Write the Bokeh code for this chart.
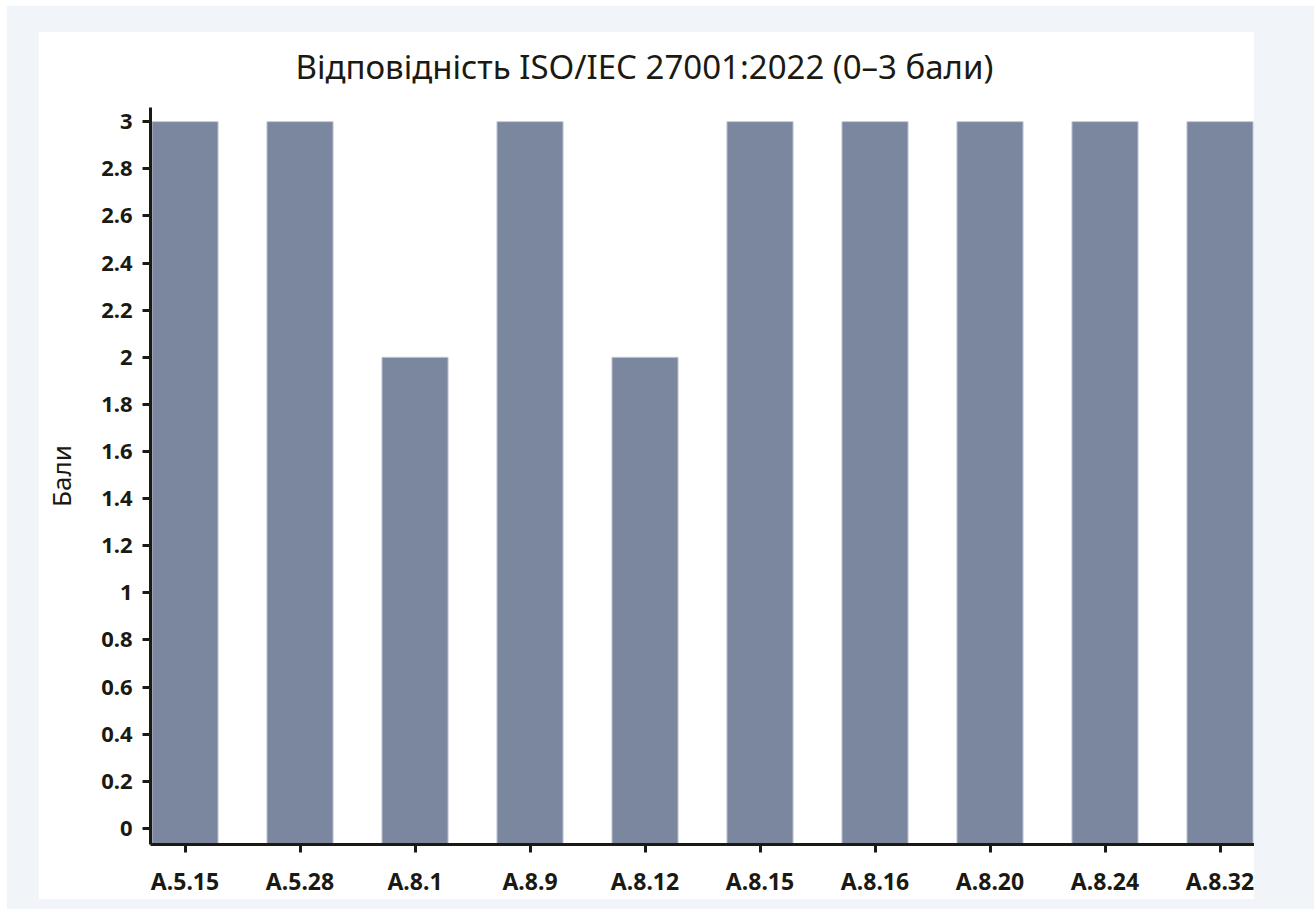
from bokeh.plotting import figure
from bokeh.models import FactorRange, Range1d, FixedTicker, ColumnDataSource, Title
from bokeh.layouts import column
from bokeh.embed import file_html
from bokeh.resources import INLINE

controls = ["A.5.15", "A.5.28", "A.8.1", "A.8.9", "A.8.12",
            "A.8.15", "A.8.16", "A.8.20", "A.8.24", "A.8.32"]
scores = [3, 3, 2, 3, 2, 3, 3, 3, 3, 3]
y_ticks = [0, 0.2, 0.4, 0.6, 0.8, 1, 1.2, 1.4, 1.6, 1.8, 2, 2.2, 2.4, 2.6, 2.8, 3]
y_tick_labels = ["0", "0.2", "0.4", "0.6", "0.8", "1", "1.2", "1.4", "1.6",
                 "1.8", "2", "2.2", "2.4", "2.6", "2.8", "3"]
title_text = "Відповідність ISO/IEC 27001:2022 (0–3 бали)"
y_label = "Бали"

TEXT = "#1a1a12"
FONT = "Noto Sans"

y_range = Range1d(-0.068, 3.06)
x_range = FactorRange(*controls, range_padding=-0.2, range_padding_units="absolute")

p = figure(width=1216, height=868, x_range=x_range, y_range=y_range,
           output_backend="svg", toolbar_location=None,
           min_border_left=112, min_border_right=0, min_border_top=76,
           min_border_bottom=55)

src = ColumnDataSource(dict(x=controls, top=scores,
                            bottom=[y_range.start] * len(scores)))
p.vbar(x="x", top="top", bottom="bottom", width=0.575, source=src,
       fill_color="#7a879e", line_color="#c3c9d8", line_width=1)

# small empty spacer between the title and the plot frame
p.add_layout(Title(text=" ", text_font_size="1px", standoff=3), "above")

p.title.text = title_text
p.title.align = "left"
p.title.vertical_align = "top"
p.title.offset = 145
p.title.text_font = FONT
p.title.text_font_size = "33px"
p.title.text_font_style = "normal"
p.title.text_color = TEXT
p.title.standoff = 22

p.xgrid.visible = False
p.ygrid.visible = False
p.outline_line_color = None
p.background_fill_color = "white"
p.border_fill_color = "white"

for ax in (p.xaxis[0], p.yaxis[0]):
    ax.axis_line_color = TEXT
    ax.axis_line_width = 3
    ax.major_tick_line_color = TEXT
    ax.major_tick_line_width = 3
    ax.major_tick_out = 8
    ax.major_tick_in = 0
    ax.minor_tick_line_color = None
    ax.major_label_text_font = FONT
    ax.major_label_text_font_style = "bold"
    ax.major_label_text_color = TEXT

p.xaxis.major_label_text_font_size = "23px"
p.xaxis.major_label_standoff = 12
p.yaxis.major_label_text_font_size = "22px"
p.yaxis.major_label_standoff = 10
p.yaxis.ticker = FixedTicker(ticks=y_ticks)
p.yaxis.major_label_overrides = {t: l for t, l in zip(y_ticks, y_tick_labels)}
p.yaxis.axis_label = y_label
p.yaxis.axis_label_text_font = FONT
p.yaxis.axis_label_text_font_style = "normal"
p.yaxis.axis_label_text_font_size = "26px"
p.yaxis.axis_label_text_color = TEXT
p.yaxis.axis_label_standoff = 19

layout = column(p, styles={"background-color": "#f1f5f9",
                           "margin": "6px 0 0 7px",
                           "padding": "25px 60px 12px 31px"})

open("out.html", "w").write(file_html(layout, INLINE))
